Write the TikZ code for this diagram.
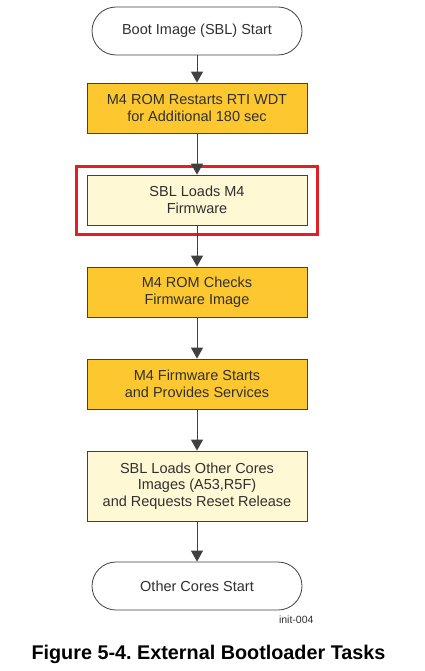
\documentclass[tikz,border=0pt]{standalone}
\usepackage{fontspec}
\setmainfont{Liberation Sans}
\usetikzlibrary{arrows.meta}
\definecolor{romOrange}{HTML}{FDC82F}
\definecolor{sblYellow}{HTML}{FEF8D5}
\definecolor{lineGray}{HTML}{404040}
\definecolor{textGray}{HTML}{303030}
\definecolor{frameRed}{HTML}{E31E24}
\frenchspacing

\begin{document}
\begin{tikzpicture}
[x=1pt,y=-1pt,
  boxDecorate/.style={shape=rectangle,draw=lineGray,line width=0.8pt,
    minimum width=220pt,minimum height=50pt,align=center,text=textGray,
    font=\fontsize{14.5}{16.5}\selectfont},
  termDecorate/.style={boxDecorate,fill=white,minimum width=210pt,
    minimum height=48pt,rounded corners=24pt},
  lineDecorate/.style={-{Triangle[width=12pt,length=11pt]},line width=1pt,draw=lineGray}]
\useasboundingbox (0,0) rectangle (425,671);
%% terminals
\node (start) at (197,31) [termDecorate] {Boot Image (SBL) Start};
\node (cores) at (197,586) [termDecorate] {Other Cores Start};
%% process boxes
\foreach \nodename/\y/\colour/\txt in {
  rti/108/romOrange/{M4 ROM Restarts RTI WDT\\for Additional 180 sec},
  sbl/200/sblYellow/{SBL Loads M4\\Firmware},
  check/292/romOrange/{M4 ROM Checks\\Firmware Image},
  fw/384/romOrange/{M4 Firmware Starts\\and Provides Services}}
{
  \node (\nodename) at (197,\y) [boxDecorate,fill=\colour] {\txt};
}
\node (others) at (197,486) [boxDecorate,fill=sblYellow,minimum height=70pt]
  {SBL Loads Other Cores\\Images (A53,R5F)\\and Requests Reset Release};
%% highlight
\draw [frameRed,line width=3pt]
  ([xshift=-10pt,yshift=8.5pt]sbl.north west) rectangle ([xshift=10pt,yshift=-9pt]sbl.south east);
%% edges or lines
\foreach \startnode/\endnode in {
  start/rti, rti/sbl, sbl/check, check/fw, fw/others, others/cores}
{
  \draw [lineDecorate] (\startnode) -- (\endnode);
}
%% labels
\node (tag) at (317,620) [anchor=east,text=textGray,font=\fontsize{10.5}{12}\selectfont] {init-004};
\node (caption) at (208.5,654) [font=\fontsize{19.8}{22}\selectfont\bfseries] {Figure 5-4. External Bootloader Tasks};
\end{tikzpicture}
\end{document}
